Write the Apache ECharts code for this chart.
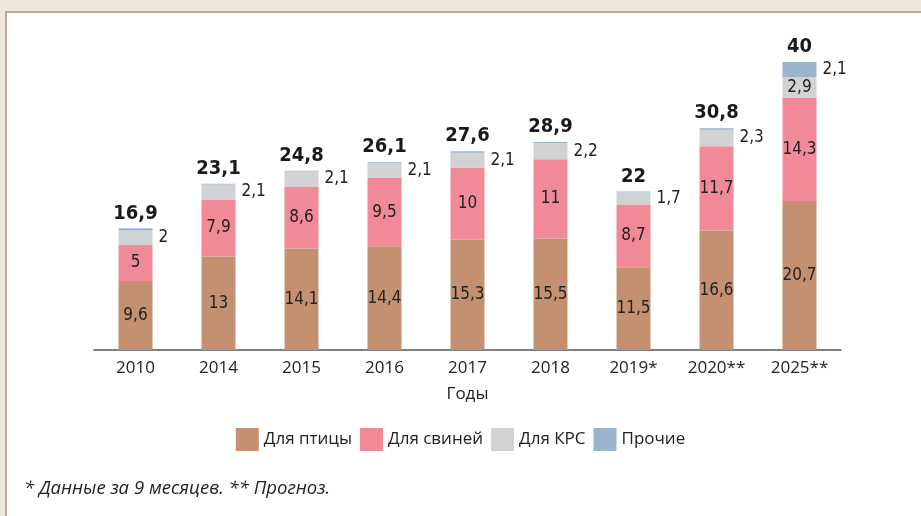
<!DOCTYPE html>
<html>
<head>
  <meta charset="utf-8">
  <title>Chart</title>
  <style>
html, body {
  margin: 0;
  padding: 0;
  background: #efe5db;
  overflow: hidden;
}
.panel {
  position: absolute;
  left: 5px;
  top: 11px;
  width: 930px;
  height: 520px;
  background: #fff;
  border-left: 2px solid #c9a58c;
  border-top: 2px solid #c9a58c;
}
#chart {
  position: absolute;
  left: 0;
  top: 0;
  width: 921px;
  height: 516px;
}
  </style>
</head>
<body>
  <div class="panel"></div>
  <div id="chart"></div>
  <script src="https://cdn.jsdelivr.net/npm/echarts@6/dist/echarts.min.js"></script>
  <script>
	const years = ['2010', '2014', '2015', '2016', '2017', '2018', '2019*', '2020**', '2025**'];
	const poultry = [9.6, 13, 14.1, 14.4, 15.3, 15.5, 11.5, 16.6, 20.7];
	const pigs = [5, 7.9, 8.6, 9.5, 10, 11, 8.7, 11.7, 14.3];
	const cattle = [2, 2.1, 2.1, 2.1, 2.1, 2.2, 1.7, 2.3, 2.9];
	const other = [0.3, 0.1, 0.1, 0.1, 0.2, 0.2, 0.1, 0.2, 2.1];
	const totals = [16.9, 23.1, 24.8, 26.1, 27.6, 28.9, 22, 30.8, 40];
	const names = ['Для птицы', 'Для свиней', 'Для КРС', 'Прочие'];
	const colors = ['#c39171', '#f08a96', '#d1d2d4', '#9bb4ce'];

	const fmt = v => String(v).replace('.', ',');
	const narrow = '"Liberation Sans Narrow", "DejaVu Sans Condensed", sans-serif';
	const last = years.length - 1;

	const inner = {
		show: true,
		position: 'inside',
		color: '#222',
		fontSize: 17,
		fontFamily: narrow,
		formatter: p => fmt(p.value)
	};

	const series = [
		{ name: names[0], data: poultry, label: inner },
		{ name: names[1], data: pigs, label: inner },
		{
			name: names[2],
			data: cattle.map((v, i) => i === last
				? { value: v, label: { position: 'inside' } }
				: v),
			label: Object.assign({}, inner, { position: 'right', distance: 6 })
		},
		{
			name: names[3],
			data: other.map((v, i) => i === last
				? { value: v, label: { show: true } }
				: v),
			label: Object.assign({}, inner, { show: false, position: 'right', distance: 6 })
		}
	].map((s, i) => Object.assign({
		type: 'bar',
		stack: 'all',
		barWidth: 34,
		itemStyle: { color: colors[i] },
		emphasis: { disabled: true }
	}, s));

	// invisible bar on top of the stack carrying the totals
	series.push({
		type: 'bar',
		name: 'total',
		stack: 'all',
		barWidth: 34,
		data: totals.map(() => 0),
		itemStyle: { color: 'transparent' },
		label: {
			show: true,
			position: 'top',
			distance: 5,
			color: '#1a1a1a',
			fontSize: 20,
			fontWeight: 'bold',
			fontFamily: '"DejaVu Sans Condensed", "Liberation Sans Narrow", sans-serif',
			formatter: p => fmt(totals[p.dataIndex])
		},
		emphasis: { disabled: true }
	});

	const chart = echarts.init(document.getElementById('chart'));
	chart.setOption({
		animation: false,
		textStyle: { fontFamily: narrow },
		grid: { left: 94, right: 80, top: 62, bottom: 166 },
		xAxis: {
			type: 'category',
			data: years,
			name: 'Годы',
			nameLocation: 'middle',
			nameGap: 36,
			nameTextStyle: { fontSize: 17, color: '#222', fontFamily: '"Open Sans", sans-serif' },
			axisLine: { lineStyle: { color: '#555', width: 1.5 } },
			axisTick: { show: false },
			axisLabel: { fontSize: 17, color: '#222', margin: 10, fontFamily: '"Open Sans", sans-serif' }
		},
		yAxis: {
			type: 'value',
			min: 0,
			max: 40,
			show: false
		},
		legend: {
			data: names,
			bottom: 60,
			left: 'center',
			itemWidth: 23,
			itemHeight: 23,
			itemGap: 8,
			icon: 'rect',
			textStyle: { fontSize: 17, color: '#222', fontFamily: '"Open Sans", sans-serif' }
		},
		graphic: [{
			type: 'text',
			left: 24,
			top: 479,
			style: {
				text: '* Данные за 9 месяцев. ** Прогноз.',
				fontSize: 18.5,
				fontStyle: 'italic',
				fill: '#222',
				fontFamily: '"Open Sans", sans-serif'
			}
		}],
		series: series
	});
  </script>
</body>
</html>
